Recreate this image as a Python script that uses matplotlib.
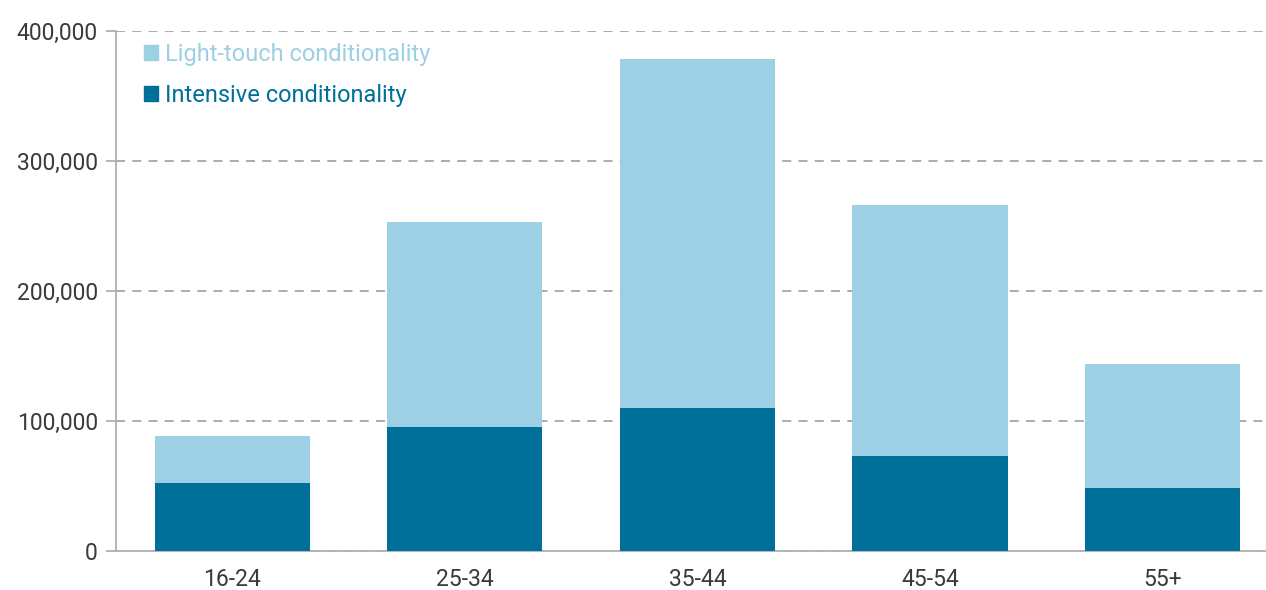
import numpy as np
import matplotlib.pyplot as plt
from matplotlib.patches import Patch
from matplotlib.ticker import FuncFormatter

# values
age_groups = ["16-24", "25-34", "35-44", "45-54", "55+"]
intensive = [52000, 95000, 110000, 73000, 48500]
light_touch = [36500, 158000, 268500, 193000, 95500]
y_ticks = [0, 100000, 200000, 300000, 400000]

LIGHT = '#9dcfe5'
DARK = '#00709b'
GRID = '#a6a6a6'
TEXT = '#3a3a3a'

plt.rcParams['font.family'] = ['Roboto', 'DejaVu Sans']

fig = plt.figure(figsize=(12.66, 5.9), dpi=100)
ax = fig.add_axes([0.0916, 0.0661, 0.9084, 0.8814])

x = np.arange(len(age_groups))
ax.bar(x, intensive, width=0.667, color=DARK, zorder=3)
ax.bar(x, light_touch, width=0.667, bottom=intensive, color=LIGHT, zorder=3)

ax.set_xlim(-0.5, 4.445)
ax.set_ylim(0, 400000)
ax.set_yticks(y_ticks)
ax.yaxis.set_major_formatter(FuncFormatter(lambda v, p: f'{int(v):,}'))
ax.set_xticks(x)
ax.set_xticklabels(age_groups)

ax.grid(axis='y', color=GRID, linestyle=(0, (5, 4)), linewidth=1.3, zorder=0)
for s in ['top', 'right']:
    ax.spines[s].set_visible(False)
for s in ['left', 'bottom']:
    ax.spines[s].set_color('#b0b0b0')
    ax.spines[s].set_linewidth(1.3)

ax.tick_params(axis='y', length=7, width=1.3, color='#b0b0b0', labelsize=16.5,
               labelcolor=TEXT, pad=6)
ax.tick_params(axis='x', length=0, labelsize=16.5, labelcolor=TEXT, pad=12)

handles = [Patch(color=LIGHT, label='Light-touch conditionality'),
           Patch(color=DARK, label='Intensive conditionality')]
leg = ax.legend(handles=handles, loc='upper left', bbox_to_anchor=(0.006, 1.018),
                frameon=False, fontsize=17, handlelength=0.6, handleheight=0.6,
                handletextpad=0.3, labelspacing=0.78, labelcolor=[LIGHT, DARK])

fig.savefig('out.png', dpi=100)
